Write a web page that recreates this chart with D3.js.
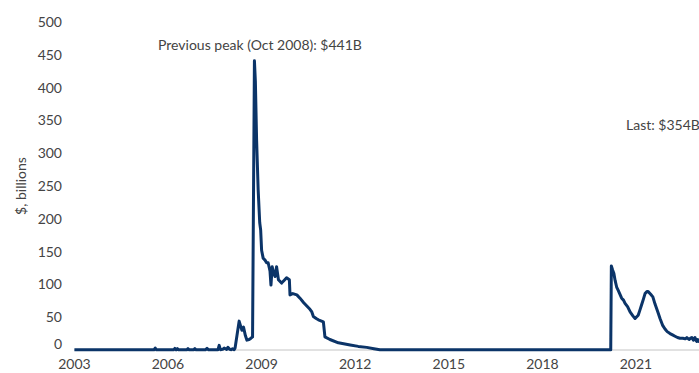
<!DOCTYPE html>
<html>
<head>
<meta charset="utf-8">
<script src="https://cdn.jsdelivr.net/npm/d3@7"></script>
<style>
  html, body { margin: 0; padding: 0; background: #fff; }
  svg { display: block; font-family: Lato, "Open Sans", sans-serif; }
</style>
</head>
<body>
<svg id="chart" width="699" height="373"></svg>
<script>
// Data (decimal years, $ billions)
const dates = [
  2003.00, 2005.55, 2005.59, 2005.63, 2006.18, 2006.22, 2006.26, 2006.30, 2006.34,
  2006.60, 2006.64, 2006.68, 2006.82, 2006.86, 2006.90, 2007.20, 2007.25, 2007.30,
  2007.60, 2007.64, 2007.68, 2007.75, 2007.80, 2007.88, 2007.92, 2007.98, 2008.03,
  2008.07, 2008.12, 2008.15, 2008.28, 2008.33, 2008.37, 2008.42, 2008.48, 2008.53,
  2008.60, 2008.66, 2008.71, 2008.77, 2008.80, 2008.84, 2008.89, 2008.94, 2008.97,
  2009.00, 2009.05, 2009.11, 2009.16, 2009.21, 2009.27, 2009.30, 2009.34, 2009.38,
  2009.43, 2009.48, 2009.54, 2009.64, 2009.72, 2009.80, 2009.89, 2009.91, 2010.00,
  2010.13, 2010.23, 2010.35, 2010.45, 2010.55, 2010.61, 2010.66, 2010.75, 2010.82,
  2010.98, 2011.03, 2011.19, 2011.46, 2011.84, 2012.10, 2012.37, 2012.60, 2012.79,
  2013.20, 2020.19, 2020.21, 2020.25, 2020.29, 2020.33, 2020.38, 2020.43, 2020.54,
  2020.60, 2020.65, 2020.73, 2020.81, 2020.90, 2020.97, 2021.07, 2021.12, 2021.18,
  2021.24, 2021.29, 2021.35, 2021.39, 2021.47, 2021.54, 2021.61, 2021.70, 2021.77,
  2021.85, 2021.93, 2022.00, 2022.09, 2022.17, 2022.25, 2022.33, 2022.41, 2022.50,
  2022.58, 2022.63, 2022.70, 2022.75, 2022.79, 2022.84, 2022.89, 2022.93, 2022.95,
  2022.98, 2023.02, 2023.10, 2023.17, 2023.19
];
const values = [
  0.2, 0.2, 3.0, 0.2, 0.2, 2.5, 0.3, 2.0, 0.3,
  0.3, 2.0, 0.3, 0.3, 2.0, 0.3, 0.3, 2.5, 0.3,
  0.3, 7.0, 0.5, 1.0, 3.0, 1.0, 4.0, 1.0, 0.5,
  2.0, 0.5, 3.0, 44, 36, 30, 35, 22, 15,
  16, 18, 20, 441, 410, 320, 244, 194, 183,
  152, 140, 137, 133, 133, 120, 99, 127, 118,
  112, 127, 107, 102, 106, 110, 107, 84, 86,
  84, 79, 72, 67, 62, 58, 51, 48, 46,
  43, 20, 16, 11, 7.6, 5.5, 4, 2, 0.5,
  0.2, 0.2, 128, 122, 117, 106, 96, 91, 79,
  76, 71, 66, 58, 52, 48, 53, 60, 69,
  78, 86, 89, 89, 85, 81, 70, 58, 48,
  38, 32, 28, 25, 23, 21, 19, 18, 18,
  17, 19, 16, 18, 19, 15, 19, 14, 13,
  16, 13, 12, 5, 354
];
const yTicks = [0, 50, 100, 150, 200, 250, 300, 350, 400, 450, 500];
const xTickYears = [2003, 2006, 2009, 2012, 2015, 2018, 2021];
const peakLabel = "Previous peak (Oct 2008): $441B";
const lastLabel = "Last: $354B";
const yTitle = "$, billions";

const svg = d3.select("#chart");
const x = d3.scaleLinear().domain([2003, 2023]).range([74.4, 698.4]);
const y = d3.scaleLinear().domain([0, 500]).range([350, 22]);

const textColor = "#444";

// Baseline
svg.append("line")
  .attr("x1", x(2003)).attr("x2", 699)
  .attr("y1", y(0)).attr("y2", y(0))
  .attr("stroke", "#c4c4c4").attr("stroke-width", 1);

// Y tick labels
svg.append("g").selectAll("text").data(yTicks).join("text")
  .attr("x", 62).attr("y", d => y(d) - (d === 0 ? 6 : 0))
  .attr("dy", "0.35em")
  .attr("text-anchor", "end")
  .attr("font-size", 14).attr("fill", textColor)
  .text(d => d);

// X tick labels
svg.append("g").selectAll("text").data(xTickYears).join("text")
  .attr("x", d => x(d)).attr("y", 369)
  .attr("text-anchor", "middle")
  .attr("font-size", 14).attr("fill", textColor)
  .text(d => d);

// Y title
svg.append("text")
  .attr("transform", `translate(26, ${y(250)}) rotate(-90)`)
  .attr("text-anchor", "middle")
  .attr("font-size", 14).attr("fill", textColor)
  .text(yTitle);

// Line
const data = dates.map((d, i) => ({ x: d, y: values[i] }));
const line = d3.line().x(d => x(d.x)).y(d => y(d.y)).curve(d3.curveLinear);
svg.append("path").datum(data)
  .attr("d", line)
  .attr("fill", "none")
  .attr("stroke", "#0b3468")
  .attr("stroke-width", 3)
  .attr("stroke-linejoin", "round");

// Annotations
svg.append("text").attr("x", 158).attr("y", 50)
  .attr("font-size", 14).attr("fill", textColor).text(peakLabel);
svg.append("text").attr("x", 626).attr("y", 130)
  .attr("font-size", 14).attr("fill", textColor).text(lastLabel);
</script>
</body>
</html>
